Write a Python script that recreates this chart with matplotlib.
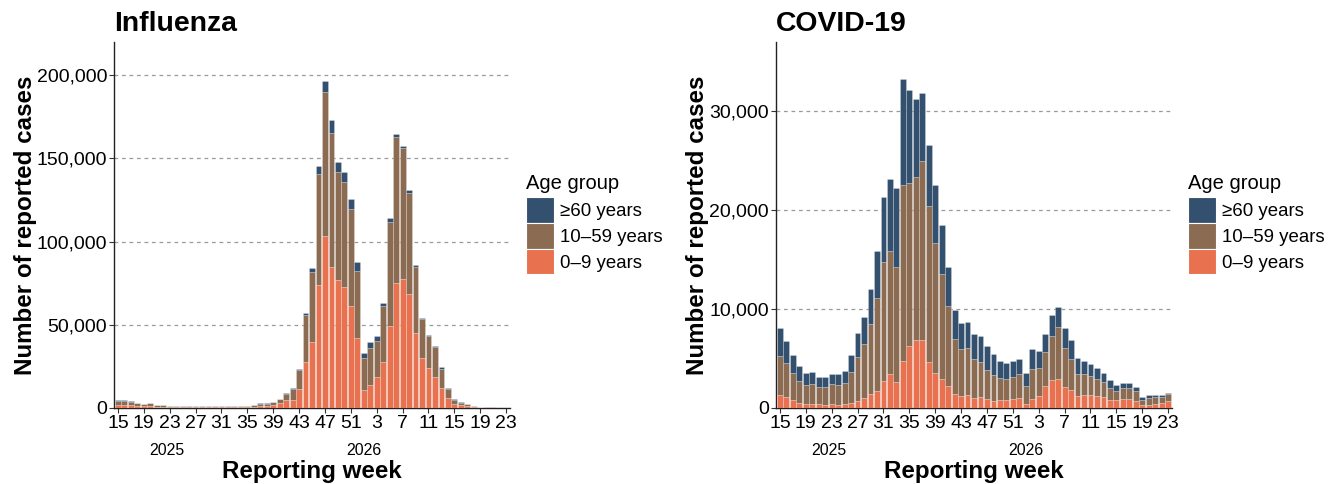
import matplotlib
matplotlib.use("Agg")
import matplotlib.pyplot as plt
from matplotlib.patches import Patch
import matplotlib.transforms as mtransforms
import numpy as np

plt.rcParams['font.family'] = ['Liberation Sans', 'DejaVu Sans']

# Reporting weeks: 2025 w15 .. 2026 w23
weeks = [15, 16, 17, 18, 19, 20, 21, 22, 23, 24, 25, 26, 27, 28, 29, 30, 31, 32, 33, 34,
         35, 36, 37, 38, 39, 40, 41, 42, 43, 44, 45, 46, 47, 48, 49, 50, 51, 52,
         1, 2, 3, 4, 5, 6, 7, 8, 9, 10, 11, 12, 13, 14, 15, 16, 17, 18, 19, 20, 21, 22, 23]
tick_weeks = [15, 19, 23, 27, 31, 35, 39, 43, 47, 51, 3, 7, 11, 15, 19, 23]
years = ["2025", "2026"]
age_groups = ["≥60 years", "10–59 years", "0–9 years"]

# Influenza
flu_0_9 = [1800, 1800, 1600, 1200, 1000, 1100, 800, 800, 600, 500, 500, 500, 450, 500, 500, 500,
           450, 450, 500, 550, 600, 800, 1300, 1400, 2000, 2900, 4800, 5000, 11600, 27400, 39400,
           74100, 103300, 84700, 76700, 72500, 61500, 41800, 10600, 13600, 18400, 27400, 49200,
           75100, 77500, 68500, 44800, 30000, 24200, 18600, 11800, 6200, 2600, 1600, 1000, 600,
           350, 200, 150, 100, 100]
flu_10_59 = [2500, 2500, 2300, 1600, 1400, 1700, 1100, 1100, 700, 700, 600, 600, 550, 600, 600, 600,
             550, 550, 600, 650, 700, 900, 1400, 1300, 1700, 2300, 3800, 6600, 11400, 28300, 42100,
             66600, 86900, 80300, 65000, 63600, 58400, 40700, 19400, 22400, 21800, 33900, 62900,
             87700, 78500, 60800, 39700, 23500, 19200, 17800, 11800, 5000, 2000, 1600, 1300, 700,
             400, 250, 200, 150, 150]
flu_60 = [300, 300, 300, 200, 200, 200, 100, 100, 100, 100, 100, 100, 100, 100, 100, 100,
          100, 100, 100, 100, 100, 100, 100, 100, 100, 200, 200, 600, 600, 1600, 2600,
          4600, 6600, 8200, 6400, 6000, 6000, 5000, 3000, 3800, 2800, 2000, 2200,
          1800, 1600, 1600, 1600, 800, 600, 600, 800, 600, 600, 200, 100, 100,
          50, 50, 50, 50, 50]

# COVID-19
cov_0_9 = [1350, 1110, 810, 505, 370, 400, 370, 300, 400, 340, 400, 540, 740, 1010, 1380, 1750,
           2690, 3400, 2590, 4710, 6260, 6870, 6900, 4610, 3570, 2900, 2220, 1450, 1210, 1350,
           1010, 1080, 875, 710, 840, 810, 875, 980, 400, 910, 1250, 2260, 2790, 2900, 2090,
           1780, 1210, 1350, 1350, 1210, 1080, 840, 810, 940, 940, 740, 300, 340, 440, 505, 710]
cov_10_59 = [3900, 3440, 2760, 2185, 1950, 2020, 1780, 1790, 2020, 1950, 2130, 3060, 4450, 5420,
             7070, 9330, 12060, 12460, 11620, 17820, 16470, 16530, 18020, 15860, 13160, 10640,
             8080, 5490, 4750, 4710, 3910, 3570, 2925, 2590, 2190, 2150, 2255, 2450, 1820, 3000,
             2760, 3360, 4520, 5280, 3940, 3140, 2190, 2080, 1920, 1750, 1510, 1180, 910, 1050,
             1110, 1010, 540, 700, 640, 605, 700]
cov_60 = [2860, 2250, 1750, 1520, 1220, 1220, 1010, 1070, 1050, 1110, 1240, 1750, 2390, 2800,
          3570, 4810, 6600, 7240, 8050, 10700, 9430, 7880, 6900, 6130, 5860, 4980, 3940, 2930,
          2660, 2660, 2590, 2660, 2460, 2190, 1750, 1620, 1580, 1550, 1350, 2050, 1780, 1890,
          2120, 2060, 2050, 1980, 1650, 1280, 1170, 1050, 980, 810, 570, 500, 440, 370, 300,
          310, 200, 170, 140]

flu_ticks = [0, 50000, 100000, 150000, 200000]
cov_ticks = [0, 10000, 20000, 30000]

colors = {"≥60 years": "#34506F", "10–59 years": "#8C6B53", "0–9 years": "#E8714F"}

W, H = 1335, 484
fig = plt.figure(figsize=(W / 100, H / 100), dpi=100)


def panel(left_px, title, s0, s1, s2, yticks, ymax, legend_x):
    ax = fig.add_axes([left_px / W, 1 - 408 / H, 396 / W, 366 / H])
    x = np.arange(len(weeks))
    a = np.array(s0, dtype=float)
    b = np.array(s1, dtype=float)
    c = np.array(s2, dtype=float)
    kw = dict(width=0.9, edgecolor=(1, 1, 1, 0.4), linewidth=0.4, zorder=3)
    ax.bar(x, a, color=colors["0–9 years"], **kw)
    ax.bar(x, b, bottom=a, color=colors["10–59 years"], **kw)
    ax.bar(x, c, bottom=a + b, color=colors["≥60 years"], **kw)
    ax.set_xlim(-0.6, len(weeks) - 0.4)
    ax.set_ylim(0, ymax)
    tpos = list(range(0, len(weeks), 4))
    ax.set_xticks(tpos)
    ax.set_xticklabels([str(tick_weeks[k]) for k in range(len(tpos))], fontsize=14)
    ax.set_yticks(yticks)
    ax.set_yticklabels([f"{v:,}" for v in yticks], fontsize=14)
    ax.tick_params(axis='both', length=3.5, width=0.8, color='#333333', pad=1.5)
    for v in yticks[1:]:
        ax.axhline(v, color='#9a9a9a', lw=0.9, ls=(0, (3, 3)), zorder=1)
    for s in ['top', 'right']:
        ax.spines[s].set_visible(False)
    ax.spines['left'].set_color('#222222')
    ax.spines['bottom'].set_color('#222222')
    ax.spines['left'].set_linewidth(1.0)
    ax.spines['bottom'].set_linewidth(1.0)
    ax.set_title(title, loc='left', fontsize=20.4, fontweight='bold', pad=8)
    ax.set_xlabel("Reporting week", fontsize=17.4, fontweight='bold', labelpad=20)
    ax.set_ylabel("Number of reported cases", fontsize=17.4, fontweight='bold', labelpad=0)
    tr = mtransforms.blended_transform_factory(ax.transData, ax.transAxes)
    ax.text(7.5, -0.115, years[0], transform=tr, ha='center', va='center', fontsize=11.4)
    ax.text(38.0, -0.115, years[1], transform=tr, ha='center', va='center', fontsize=11.4)
    handles = [Patch(facecolor=colors[g], edgecolor='white', linewidth=0.8, label=g) for g in age_groups]
    leg = ax.legend(handles=handles, title="Age group", loc='upper left',
                    bbox_to_anchor=(legend_x / W, 1 - 174 / H), bbox_transform=fig.transFigure,
                    frameon=False, fontsize=13.4, title_fontsize=14.5, handlelength=1.5,
                    handleheight=1.75, handletextpad=0.3, labelspacing=0.0, borderpad=0,
                    borderaxespad=0, alignment='left')
    leg._legend_box.sep = 3
    return ax


panel(114, "Influenza", flu_0_9, flu_10_59, flu_60, flu_ticks, 220000, 526)
panel(776, "COVID-19", cov_0_9, cov_10_59, cov_60, cov_ticks, 37000, 1188)

fig.savefig("out.png", dpi=100)
